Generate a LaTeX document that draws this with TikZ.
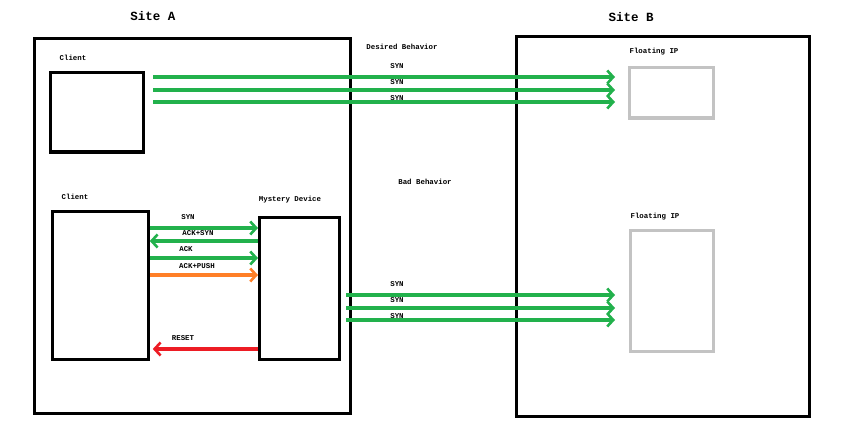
\documentclass[tikz,border=0pt]{standalone}
\usepackage{fontspec}
\setmonofont{Liberation Mono}
\usetikzlibrary{arrows.meta}
\definecolor{cgreen}{RGB}{34,177,76}
\definecolor{corange}{RGB}{255,127,39}
\definecolor{cred}{RGB}{237,28,36}
\definecolor{cgrey}{RGB}{195,195,195}
\begin{document}
\begin{tikzpicture}[x=1pt,y=-1pt,
  lbl/.style={font=\ttfamily\bfseries\fontsize{7.4}{8}\selectfont, inner sep=0pt},
  site/.style={font=\ttfamily\bfseries\fontsize{12.5}{14}\selectfont, inner sep=0pt},
  blk/.style={draw=black, line width=3.3pt, fill=white, inner sep=0pt, anchor=north west},
  gry/.style={draw=cgrey, line width=3.3pt, fill=white, inner sep=0pt, anchor=north west},
  arr/.style={line width=3.5pt, -{Straight Barb[length=6pt,width=13pt,line width=2.6pt]}}]
\useasboundingbox (0,0) rectangle (841,441);
% sites
\node[site] (siteA) at (153,16) {Site A};
\node[site] (siteB) at (631,17) {Site B};
\node[blk, minimum width=315.5pt, minimum height=374.5pt] (boxA) at (33,37) {};
\node[blk, minimum width=292.5pt, minimum height=379.5pt] (boxB) at (515,35) {};
% top section
\node[lbl] (cl1lbl) at (73,58) {Client};
\node[blk, minimum width=92.5pt, minimum height=79.5pt] (client1) at (49,71) {};
\node[lbl] (desired) at (402,47) {Desired Behavior};
\node[lbl] (fip1lbl) at (654,52) {Floating IP};
\node[gry, minimum width=83.5pt, minimum height=50.5pt] (fip1) at (628,66) {};
\coordinate (t1s) at (153,77); \coordinate (t1e) at (615,77);
\coordinate (t2s) at (153,90); \coordinate (t2e) at (615,90);
\coordinate (t3s) at (153,102); \coordinate (t3e) at (615,102);
\draw[arr, cgreen] (t1s) -- (t1e);
\draw[arr, cgreen] (t2s) -- (t2e);
\draw[arr, cgreen] (t3s) -- (t3e);
\node[lbl] (syn1) at (397,66) {SYN};
\node[lbl] (syn2) at (397,82) {SYN};
\node[lbl] (syn3) at (397,98) {SYN};
% bottom section
\node[lbl] (cl2lbl) at (75,197) {Client};
\node[blk, minimum width=95.5pt, minimum height=147.5pt] (client2) at (51,210) {};
\node[lbl] (mystlbl) at (290,200) {Mystery Device};
\node[blk, minimum width=79.5pt, minimum height=141.5pt] (mystery) at (258,216) {};
\node[lbl] (badlbl) at (425,182) {Bad Behavior};
\node[lbl] (fip2lbl) at (655,217) {Floating IP};
\node[gry, minimum width=82.5pt, minimum height=120.5pt] (fip2) at (629,229) {};
% handshake
\draw[arr, cgreen] (client2.east |- 0,228) -- (mystery.west |- 0,228);
\node[lbl] (hs1) at (188,217) {SYN};
\draw[arr, cgreen] (mystery.west |- 0,241) -- (client2.east |- 0,241);
\node[lbl] (hs2) at (198,233) {ACK+SYN};
\draw[arr, cgreen] (client2.east |- 0,258) -- (mystery.west |- 0,258);
\node[lbl] (hs3) at (186,249) {ACK};
\draw[arr, corange] (client2.east |- 0,275) -- (mystery.west |- 0,275);
\node[lbl] (hs4) at (197,266) {ACK+PUSH};
\draw[arr, cred] (mystery.west |- 0,349) -- ([xshift=3pt]client2.east |- 0,349);
\node[lbl] (hs5) at (183,338) {RESET};
% bad syns
\coordinate (b1s) at (346,295); \coordinate (b1e) at (615,295);
\coordinate (b2s) at (346,308); \coordinate (b2e) at (615,308);
\coordinate (b3s) at (346,320); \coordinate (b3e) at (615,320);
\draw[arr, cgreen] (b1s) -- (b1e);
\draw[arr, cgreen] (b2s) -- (b2e);
\draw[arr, cgreen] (b3s) -- (b3e);
\node[lbl] (bs1) at (397,284) {SYN};
\node[lbl] (bs2) at (397,300) {SYN};
\node[lbl] (bs3) at (397,316) {SYN};
\end{tikzpicture}
\end{document}
